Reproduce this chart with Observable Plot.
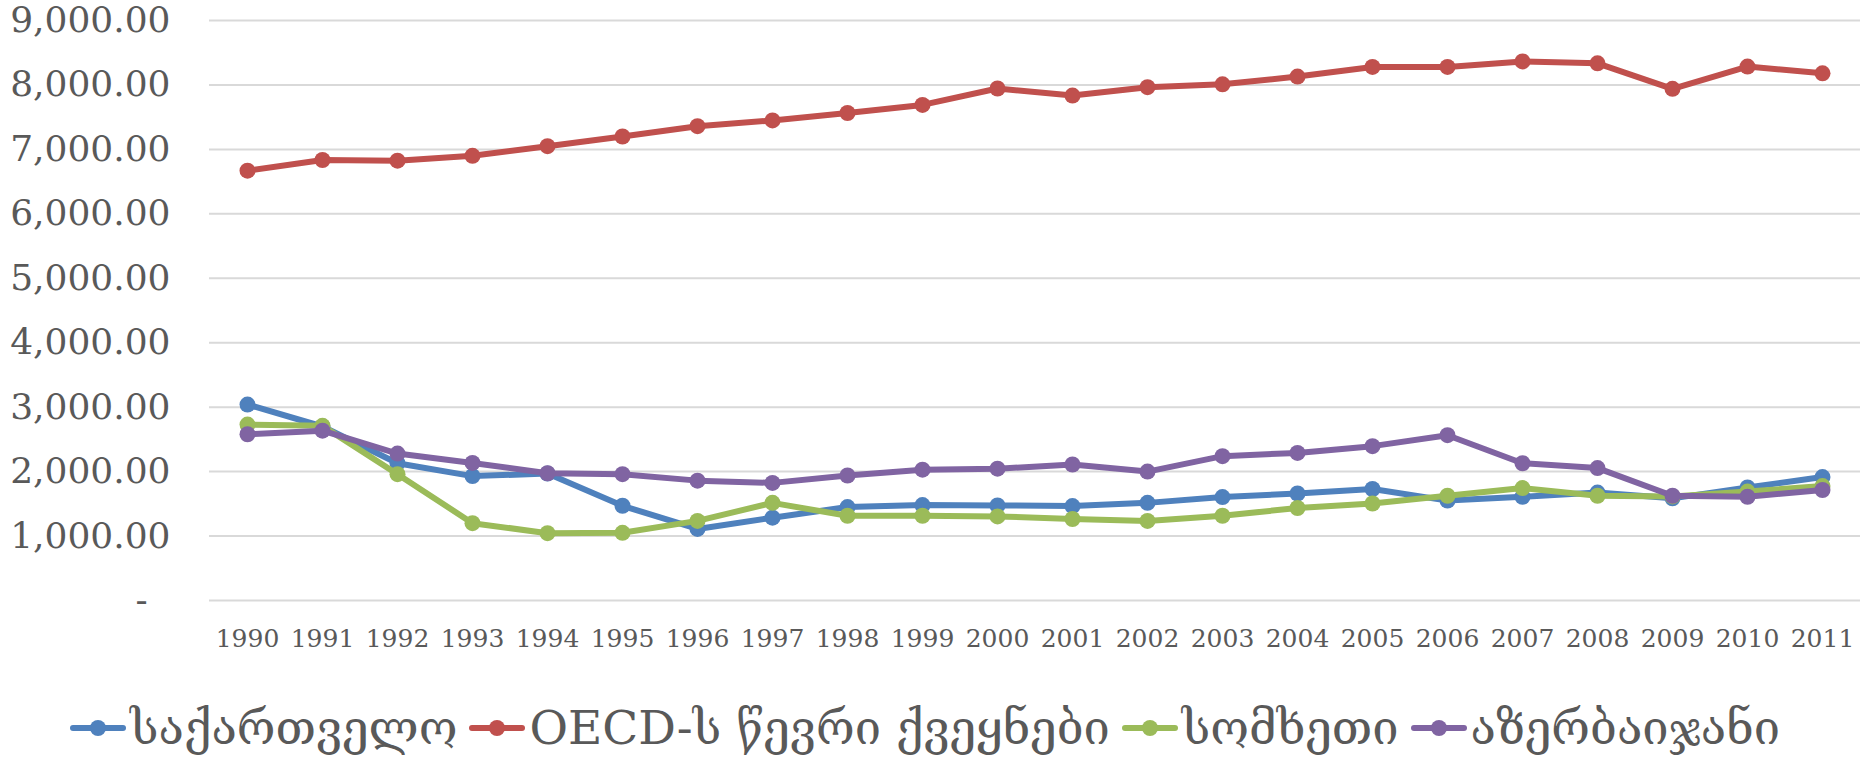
<!DOCTYPE html>
<html>
<head>
<meta charset="utf-8">
<script src="https://cdn.jsdelivr.net/npm/d3@7"></script>
<script src="https://cdn.jsdelivr.net/npm/@observablehq/plot@0.6"></script>
<style>
  html, body { margin: 0; padding: 0; background: #fff; }
  #chart { width: 1862px; height: 766px; position: relative; overflow: hidden; }
  #chart svg { position: absolute; left: 0; top: 0; }
  #legend { position: absolute; left: 70px; top: 700px; display: flex; align-items: center;
    font-family: "DejaVu Serif", serif; font-size: 47px; line-height: 56px; color: #595959; white-space: nowrap; }
  .item { display: flex; align-items: center; margin-right: 12px; }
  .sw { width: 56px; height: 16px; position: relative; margin-right: 4px; }
  .sw .ln { position: absolute; left: 0; right: 0; top: 5px; height: 6px; border-radius: 3px; }
  .sw .dt { position: absolute; left: 20px; top: 0; width: 16px; height: 16px; border-radius: 50%; }
</style>
</head>
<body>
<div id="chart"></div>
<script>
const years = ["1990","1991","1992","1993","1994","1995","1996","1997","1998","1999","2000","2001","2002","2003","2004","2005","2006","2007","2008","2009","2010","2011"];
const seriesNames = ["საქართველო", "OECD-ს წევრი ქვეყნები", "სომხეთი", "აზერბაიჯანი"];
const seriesColors = ["#4f81bd", "#c0504d", "#9bbb59", "#8064a2"];
const georgia    = [3040, 2700, 2130, 1930, 1970, 1470, 1110, 1285, 1450, 1480, 1475, 1465, 1515, 1605, 1660, 1730, 1550, 1610, 1675, 1585, 1755, 1915];
const oecd       = [6670, 6835, 6825, 6900, 7050, 7200, 7360, 7450, 7565, 7690, 7945, 7835, 7965, 8010, 8130, 8280, 8280, 8365, 8335, 7940, 8285, 8180];
const armenia    = [2730, 2710, 1960, 1200, 1045, 1050, 1235, 1515, 1315, 1315, 1305, 1265, 1235, 1315, 1435, 1505, 1625, 1745, 1625, 1615, 1690, 1775];
const azerbaijan = [2580, 2635, 2280, 2135, 1975, 1960, 1860, 1825, 1940, 2030, 2045, 2110, 2000, 2240, 2290, 2395, 2565, 2130, 2055, 1625, 1610, 1715];
const yTicks = [0, 1000, 2000, 3000, 4000, 5000, 6000, 7000, 8000, 9000];

const allValues = [georgia, oecd, armenia, azerbaijan];
const data = [];
allValues.forEach((vals, si) => {
  vals.forEach((v, i) => data.push({year: years[i], value: v, series: seriesNames[si]}));
});

const fmt = d3.format(",.2f");
const seriesMarks = [];
seriesNames.forEach(name => {
  const rows = data.filter(d => d.series === name);
  seriesMarks.push(Plot.line(rows, {x: "year", y: "value", stroke: "series", strokeWidth: 6, strokeLinejoin: "round", strokeLinecap: "round"}));
  seriesMarks.push(Plot.dot(rows, {x: "year", y: "value", fill: "series", r: 8, stroke: "none"}));
});

const chart = Plot.plot({
  width: 1862,
  height: 660,
  marginLeft: 209,
  marginRight: 2,
  marginTop: 20,
  marginBottom: 60,
  style: {fontFamily: "'DejaVu Serif', serif", background: "transparent"},
  x: {type: "point", domain: years, padding: 0.5},
  y: {domain: [0, 9000]},
  color: {domain: seriesNames, range: seriesColors},
  marks: [
    Plot.ruleY(yTicks, {stroke: "#d9d9d9", strokeWidth: 2}),
    Plot.axisY(yTicks, {tickSize: 0, tickPadding: 39, fontSize: 36, fill: "#595959", label: null,
      tickFormat: d => d === 0 ? "-\u00a0\u00a0" : fmt(d)}),
    Plot.axisX({tickSize: 0, tickPadding: 29, fontSize: 25, fill: "#595959", label: null}),
    ...seriesMarks
  ]
});
const root = document.getElementById("chart");
root.appendChild(chart);

const legend = document.createElement("div");
legend.id = "legend";
seriesNames.forEach((n, i) => {
  const it = document.createElement("div");
  it.className = "item";
  it.innerHTML = `<div class="sw"><div class="ln" style="background:${seriesColors[i]}"></div><div class="dt" style="background:${seriesColors[i]}"></div></div><span>${n}</span>`;
  legend.appendChild(it);
});
root.appendChild(legend);
</script>
</body>
</html>
